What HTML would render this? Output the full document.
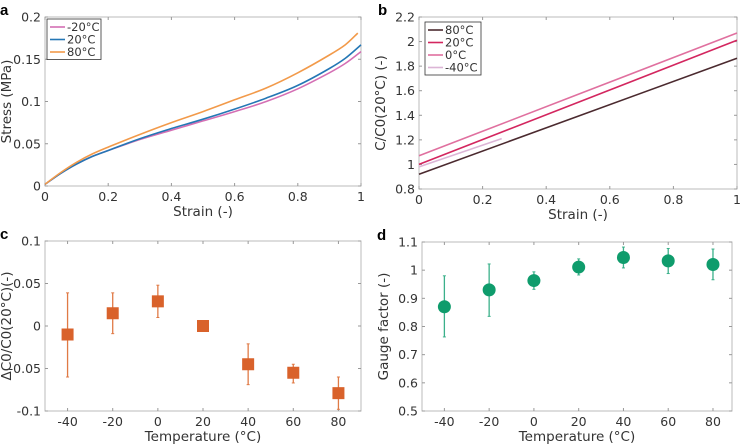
<!DOCTYPE html>
<html><head><meta charset="utf-8"><style>
body{margin:0;background:#fff}
svg{display:block;font-family:"DejaVu Sans","Liberation Sans",sans-serif}
.tk{font-size:12.5px;fill:#333}
.lg{font-size:11.5px;fill:#333}
.lb{font-size:13.5px;fill:#333}
.pl{font-size:15px;font-weight:bold;font-family:"Liberation Sans",sans-serif}
</style></head><body>
<svg id="s" width="741" height="447"></svg>
<script>
// panel a data
const strainA=[0,0.05,0.1,0.15,0.2,0.3,0.4,0.5,0.6,0.7,0.8,0.9,0.95,1.0];
const stressM20=[0.002,0.015,0.026,0.035,0.042,0.055,0.066,0.077,0.088,0.100,0.115,0.134,0.145,0.159];
const stress20=[0.002,0.015,0.026,0.035,0.042,0.056,0.068,0.079,0.091,0.104,0.119,0.139,0.151,0.167];
const strain80=[0,0.05,0.1,0.15,0.2,0.3,0.4,0.5,0.6,0.7,0.8,0.9,0.95,0.99];
const stress80=[0.002,0.016,0.028,0.038,0.046,0.061,0.075,0.088,0.102,0.116,0.134,0.155,0.167,0.181];
// panel b data
const lineB80=[[0,0.92],[1,1.865]];
const lineB20=[[0,1.0],[1,2.01]];
const lineB0=[[0,1.07],[1,2.07]];
const lineBm40=[[0,0.98],[0.26,1.21]];
// panel c/d data
const temps=[-40,-20,0,20,40,60,80];
const dC=[-0.01,0.015,0.029,0,-0.045,-0.055,-0.079];
const dClo=[-0.06,-0.009,0.01,0,-0.069,-0.067,-0.098];
const dChi=[0.039,0.039,0.048,0,-0.021,-0.045,-0.06];
const gf=[0.87,0.93,0.963,1.011,1.045,1.033,1.02];
const gfLo=[0.763,0.836,0.932,0.983,1.008,0.988,0.966];
const gfHi=[0.98,1.022,0.994,1.04,1.082,1.077,1.075];
const ticksA=[0,0.05,0.1,0.15,0.2], ticksB=[0.8,1,1.2,1.4,1.6,1.8,2,2.2];
const ticksStrain=[0,0.2,0.4,0.6,0.8,1], ticksC=[-0.1,-0.05,0,0.05,0.1];
const ticksD=[0.5,0.6,0.7,0.8,0.9,1,1.1];

const NS='http://www.w3.org/2000/svg', S=document.getElementById('s');
function el(t,a,p){const e=document.createElementNS(NS,t);for(const k in a)e.setAttribute(k,a[k]);(p||S).appendChild(e);return e;}
function txt(x,y,s,cls,anchor,extra){const e=el('text',Object.assign({x:x,y:y,class:cls,'text-anchor':anchor||'middle'},extra||{}));e.textContent=s;return e;}
function fmt(v){return (Math.round(v*1000)/1000).toString();}
function axes(name,L,R,T,B,x0,x1,y0,y1,xt,yt,xl,yl,letter,xlabels){
 const g=el('g',{});
 
 
 const X=v=>L+(v-x0)/(x1-x0)*(R-L), Y=v=>B-(v-y0)/(y1-y0)*(B-T);
 el('rect',{x:L,y:T,width:R-L,height:B-T,fill:'none',stroke:'#bbb','stroke-width':1},g);
 xt.forEach(v=>{el('line',{x1:X(v),x2:X(v),y1:B,y2:B-3,stroke:'#999'},g);el('line',{x1:X(v),x2:X(v),y1:T,y2:T+3,stroke:'#999'},g);
  const t=txt(X(v),B+15,xlabels?String(v):fmt(v),'tk','middle');});
 yt.forEach(v=>{el('line',{x1:L,x2:L+3,y1:Y(v),y2:Y(v),stroke:'#999'},g);el('line',{x1:R,x2:R-3,y1:Y(v),y2:Y(v),stroke:'#999'},g);
  const t=txt(L-4,Y(v)+4.5,fmt(v),'tk','end');});
 const xa=txt((L+R)/2,B+30,xl,'lb');
 const ya=txt(0,0,yl,'lb','middle',{transform:`translate(${L-34},${(T+B)/2}) rotate(-90)`});
 const pl=txt(L-45+ (letter=='b'?4:0),T-2,letter,'pl','start');
 return {X,Y};
}
function line(ax,xs,ys,col,name,w){
 const P=xs.map((x,i)=>[ax.X(x),ax.Y(ys[i])]);
 let d='M'+P[0][0].toFixed(1)+' '+P[0][1].toFixed(1);
 for(let i=0;i<P.length-1;i++){
  const p0=P[Math.max(0,i-1)],p1=P[i],p2=P[i+1],p3=P[Math.min(P.length-1,i+2)];
  const c1=[p1[0]+(p2[0]-p0[0])/6,p1[1]+(p2[1]-p0[1])/6],c2=[p2[0]-(p3[0]-p1[0])/6,p2[1]-(p3[1]-p1[1])/6];
  d+=` C${c1[0].toFixed(1)} ${c1[1].toFixed(1)} ${c2[0].toFixed(1)} ${c2[1].toFixed(1)} ${p2[0].toFixed(1)} ${p2[1].toFixed(1)}`;
 }
 const p=el('path',{d:d,fill:'none',stroke:col,'stroke-width':w||1.6});
 
}
function legend(x,y,w,items){
 const g=el('g',{});
 
 
 el('rect',{x:x,y:y,width:w,height:items.length*12.5+3,fill:'#fff',stroke:'#333','stroke-width':0.8},g);
 items.forEach((it,i)=>{const yy=y+8+i*12.5;el('line',{x1:x+3,x2:x+18,y1:yy,y2:yy,stroke:it[1],'stroke-width':1.6},g);
  const t=txt(x+20,yy+4,it[0],'lg','start');});
}
// panel a
const A=axes('stress-chart',45,361,17,186,0,1,0,0.2,ticksStrain,ticksA,'Strain (-)','Stress (MPa)','a');
line(A,strainA,stressM20,'#d46fb4','series-minus20c');
line(A,strainA,stress20,'#2477b5','series-20c');
line(A,strain80,stress80,'#f29a4a','series-80c');
legend(47,19,54,[['-20°C','#d46fb4'],['20°C','#2477b5'],['80°C','#f29a4a']]);
// panel b
const B=axes('capacitance-chart',419,737,17,189,0,1,0.8,2.2,ticksStrain,ticksB,'Strain (-)','C/C0(20°C) (-)','b');
line(B,lineB80.map(p=>p[0]),lineB80.map(p=>p[1]),'#4b2a2f','line-80c');
line(B,lineB20.map(p=>p[0]),lineB20.map(p=>p[1]),'#d3265f','line-20c');
line(B,lineB0.map(p=>p[0]),lineB0.map(p=>p[1]),'#e0709f','line-0c');
line(B,lineBm40.map(p=>p[0]),lineBm40.map(p=>p[1]),'#dcb5d6','line-minus40c');
legend(425,22,56,[['80°C','#4b2a2f'],['20°C','#d3265f'],['0°C','#e0709f'],['-40°C','#dcb5d6']]);
// panel c
const C=axes('delta-c0-chart',45,361,241,411,-50,90,-0.1,0.1,temps,ticksC,'Temperature (°C)','ΔC0/C0(20°C)(-)','c',true);
temps.forEach((t,i)=>{const x=C.X(t);
 const e=el('line',{x1:x,x2:x,y1:C.Y(dClo[i]),y2:C.Y(dChi[i]),stroke:'#e07a45','stroke-width':1.3});
 
 [dClo[i],dChi[i]].forEach(v=>el('line',{x1:x-1.5,x2:x+1.5,y1:C.Y(v),y2:C.Y(v),stroke:'#e07a45'}));
 const m=el('rect',{x:x-6,y:C.Y(dC[i])-6,width:12,height:12,fill:'#d9622b'});
 });
// panel d
const D=axes('gauge-factor-chart',422,732,242,411,-50,88.5,0.5,1.1,temps,ticksD,'Temperature (°C)','Gauge factor (-)','d',true);
temps.forEach((t,i)=>{const x=D.X(t);
 const e=el('line',{x1:x,x2:x,y1:D.Y(gfLo[i]),y2:D.Y(gfHi[i]),stroke:'#3bb08a','stroke-width':1.3});
 
 [gfLo[i],gfHi[i]].forEach(v=>el('line',{x1:x-1.5,x2:x+1.5,y1:D.Y(v),y2:D.Y(v),stroke:'#3bb08a'}));
 const m=el('circle',{cx:x,cy:D.Y(gf[i]),r:6.5,fill:'#0f9c6c'});
 });
</script>
</body></html>
